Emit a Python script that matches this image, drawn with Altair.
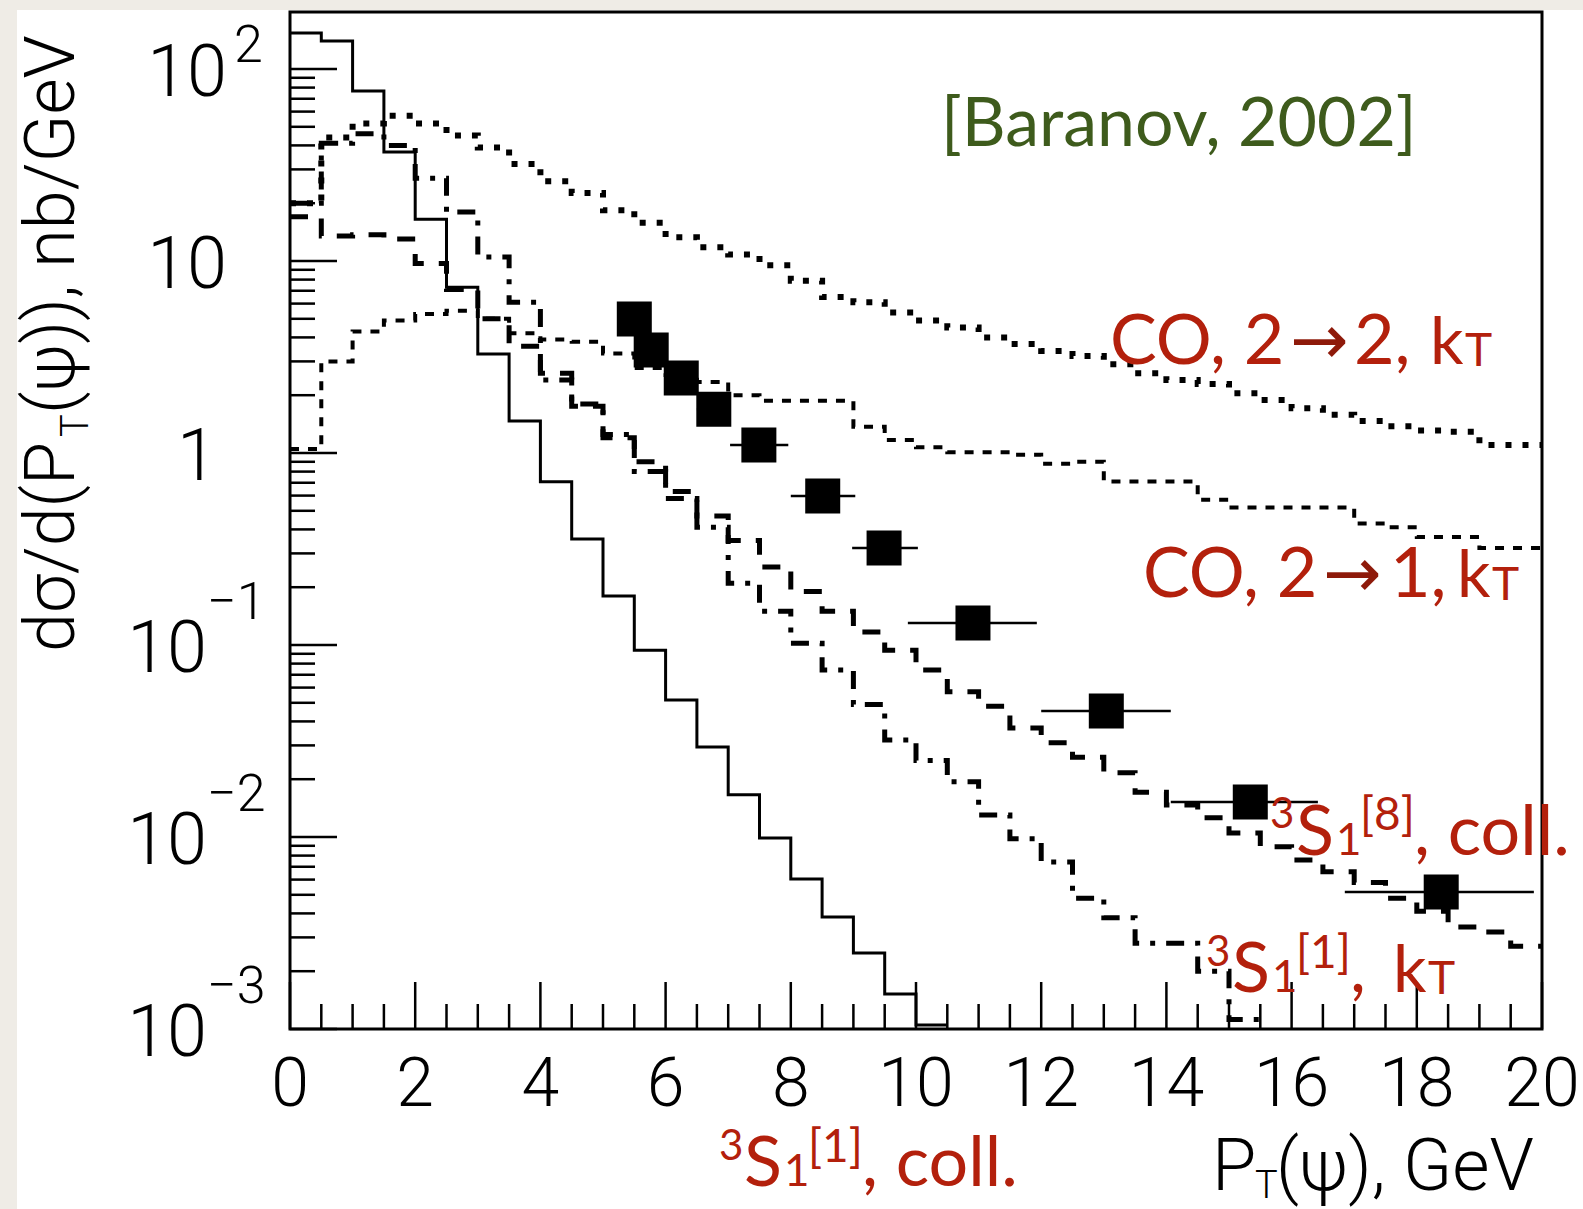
import altair as alt
import pandas as pd

# ---------------- data ----------------
BIN_WIDTH = 0.5  # GeV, histogram bin width

# 3S1[1], collinear  (solid histogram)
sing_coll = [154, 140, 76.8, 37, 16.5, 7.3, 3.28, 1.47, 0.709, 0.356, 0.18, 0.094,
             0.0517, 0.0294, 0.0166, 0.00988, 0.00604, 0.00383, 0.00249, 0.00152, 0.00105]
# CO, 2->2, kT  (dense dotted)
co_22_kt = [20, 44, 52, 57, 52, 45, 39, 32, 26, 22.6, 18.4, 15.8, 13.3, 11.8, 10.8, 9.5,
            7.9, 6.5, 6.1, 5.4, 4.9, 4.5, 4.0, 3.7, 3.4, 3.2, 2.9, 2.6, 2.4, 2.29,
            2.05, 1.89, 1.71, 1.58, 1.47, 1.38, 1.31, 1.29, 1.1, 1.1]
# CO, 2->1, kT  (sparse dotted)
co_21_kt = [1.05, 3.0, 4.3, 4.9, 5.3, 5.5, 5.0, 4.2, 3.9, 3.8, 3.3, 2.77, 2.55, 2.34, 2.0,
            1.87, 1.87, 1.87, 1.37, 1.17, 1.07, 1.01, 1.01, 0.98, 0.88, 0.9, 0.71, 0.71,
            0.71, 0.57, 0.52, 0.52, 0.52, 0.52, 0.43, 0.41, 0.365, 0.365, 0.32, 0.32]
# 3S1[8], collinear  (dashed)
oct_coll = [17, 13.5, 13.7, 13, 9.7, 7.1, 5.0, 3.6, 2.6, 1.75, 1.2, 0.9, 0.63, 0.47, 0.35,
            0.255, 0.19, 0.15, 0.117, 0.094, 0.074, 0.057, 0.048, 0.037, 0.031, 0.026,
            0.0216, 0.0171, 0.0147, 0.0126, 0.0105, 0.0089, 0.0076, 0.0066, 0.0058,
            0.0048, 0.0041, 0.0034, 0.0032, 0.0027]
# 3S1[1], kT  (dash-dotted)
sing_kt = [20, 41, 46, 40, 27, 18, 10.5, 6.1, 2.4, 1.8, 1.25, 0.8, 0.58, 0.41, 0.21, 0.15,
           0.102, 0.074, 0.049, 0.032, 0.025, 0.0194, 0.013, 0.0098, 0.0074, 0.0048,
           0.0038, 0.0028, 0.0028, 0.002, 0.00112]

# measured points
data_pt = [5.50, 5.77, 6.25, 6.77, 7.49, 8.51, 9.49, 10.91, 13.04, 15.34, 18.39]
data_val = [4.99, 3.44, 2.46, 1.69, 1.10, 0.597, 0.32, 0.130, 0.0453, 0.0152, 0.00517]
data_pt_lo = [5.38, 5.65, 6.0, 6.5, 7.03, 8.0, 8.98, 9.87, 12.0, 14.07, 16.85]
data_pt_hi = [5.62, 5.89, 6.5, 7.0, 7.96, 9.03, 10.03, 11.93, 14.07, 16.42, 19.87]

# axis ticks / labels
x_major = [0, 2, 4, 6, 8, 10, 12, 14, 16, 18, 20]
y_pos_ticks = [100, 10]
y_one_tick = [1]
y_neg_ticks = [0.1, 0.01, 0.001]
y_pos_exp = ["2"]
y_neg_exp = ["\u22121", "\u22122", "\u22123"]

X_MIN, X_MAX = 0, 20
Y_MIN, Y_MAX = 0.001, 198.1

# ---------------- layout ----------------
OX, OY = 290, 12          # plot origin in page pixels
W, H = 1252, 1017          # plot area
PAGE_W, PAGE_H = 1583, 1209

NUM_FONT = "Roboto"
NUM_WEIGHT = 300
AX_FONT = "Roboto"
ANN_FONT = "Lato"
RED = "#b3200c"
DARKRED = "#8e1a0a"
GREEN = "#3e5b1c"

xscale = alt.Scale(domain=[X_MIN, X_MAX], nice=False, zero=False)
yscale = alt.Scale(type="log", domain=[Y_MIN, Y_MAX], nice=False)

ONE = pd.DataFrame({"a": [0]})


def xenc(field="pt"):
    return alt.X(f"{field}:Q", scale=xscale, axis=None)


def yenc(field="v"):
    return alt.Y(f"{field}:Q", scale=yscale, axis=None)


def hist_df(vals):
    edges = [i * BIN_WIDTH for i in range(len(vals) + 1)]
    return pd.DataFrame({"pt": edges, "v": list(vals) + [vals[-1]]})


def hist_layer(vals, width, dash=None):
    kw = dict(interpolate="step-after", color="black", strokeWidth=width,
              clip=True, strokeCap="butt", strokeJoin="miter")
    if dash is not None:
        kw["strokeDash"] = dash
    return alt.Chart(hist_df(vals)).mark_line(**kw).encode(x=xenc(), y=yenc())


def txt(text, x, y, size, color="black", font=ANN_FONT, align="left", angle=0,
        baseline="alphabetic", weight=None):
    kw = dict(text=text, font=font, fontSize=size, color=color, align=align,
              baseline=baseline)
    if angle:
        kw["angle"] = angle
    if weight is not None:
        kw["fontWeight"] = weight
    return alt.Chart(ONE).mark_text(**kw).encode(
        x=alt.value(x - OX), y=alt.value(y - OY))


layers = []

# page white area (beige strip at top/left)
layers.append(alt.Chart(ONE).mark_rect(color="white").encode(
    x=alt.value(17 - OX), x2=alt.value(PAGE_W - OX),
    y=alt.value(10 - OY), y2=alt.value(PAGE_H - OY)))

# histograms
layers.append(hist_layer(sing_coll, 3))
layers.append(hist_layer(co_22_kt, 6, [6, 11]))
layers.append(hist_layer(co_21_kt, 4, [9, 9]))
layers.append(hist_layer(oct_coll, 5, [18, 15]))
layers.append(hist_layer(sing_kt, 5, [18, 11, 5, 11]))

# data points
pts = pd.DataFrame({"pt": data_pt, "v": data_val, "lo": data_pt_lo, "hi": data_pt_hi})
layers.append(alt.Chart(pts).mark_rule(color="black", strokeWidth=2.5).encode(
    x=xenc("lo"), x2="hi:Q", y=yenc()))
layers.append(alt.Chart(pts).mark_square(size=1225, color="black", opacity=1).encode(
    x=xenc(), y=yenc()))

# ticks (inward, ROOT style)
y_major_all = y_pos_ticks + y_one_tick + y_neg_ticks
y_minor = [m * 10.0 ** k for k in range(-3, 3) for m in range(2, 10) if m * 10.0 ** k < Y_MAX]
x_minor = [i * 0.5 for i in range(0, 41) if (i * 0.5) % 2 != 0]

layers.append(alt.Chart(pd.DataFrame({"v": y_major_all})).mark_rule(
    color="black", strokeWidth=2.5).encode(y=yenc(), x=alt.value(0), x2=alt.value(47)))
layers.append(alt.Chart(pd.DataFrame({"v": y_minor})).mark_rule(
    color="black", strokeWidth=2.5).encode(y=yenc(), x=alt.value(0), x2=alt.value(25)))
layers.append(alt.Chart(pd.DataFrame({"pt": x_major})).mark_rule(
    color="black", strokeWidth=2.5).encode(x=xenc(), y=alt.value(H), y2=alt.value(H - 47)))
layers.append(alt.Chart(pd.DataFrame({"pt": x_minor})).mark_rule(
    color="black", strokeWidth=2.5).encode(x=xenc(), y=alt.value(H), y2=alt.value(H - 25)))

# frame
layers.append(alt.Chart(ONE).mark_rect(fillOpacity=0, stroke="black", strokeWidth=3).encode(
    x=alt.value(0), x2=alt.value(W), y=alt.value(0), y2=alt.value(H)))

# x tick labels
layers.append(alt.Chart(pd.DataFrame({"pt": x_major, "lab": [str(v) for v in x_major]}))
              .mark_text(font=NUM_FONT, fontWeight=NUM_WEIGHT, fontSize=68, align="center",
                         baseline="alphabetic")
              .encode(x=xenc(), y=alt.value(1106 - OY), text="lab:N"))

# y tick labels (10^n drawn as base + raised exponent)
layers.append(alt.Chart(pd.DataFrame({"v": y_pos_ticks, "lab": ["10"] * len(y_pos_ticks)}))
              .mark_text(font=NUM_FONT, fontWeight=NUM_WEIGHT, fontSize=72, align="right",
                         baseline="alphabetic", dy=27)
              .encode(x=alt.value(227 - OX), y=yenc(), text="lab:N"))
layers.append(alt.Chart(pd.DataFrame({"v": y_one_tick, "lab": ["1"]}))
              .mark_text(font=NUM_FONT, fontWeight=NUM_WEIGHT, fontSize=72, align="right",
                         baseline="alphabetic", dy=27)
              .encode(x=alt.value(217 - OX), y=yenc(), text="lab:N"))
layers.append(alt.Chart(pd.DataFrame({"v": y_neg_ticks, "lab": ["10"] * len(y_neg_ticks)}))
              .mark_text(font=NUM_FONT, fontWeight=NUM_WEIGHT, fontSize=72, align="right",
                         baseline="alphabetic", dy=27)
              .encode(x=alt.value(207 - OX), y=yenc(), text="lab:N"))
layers.append(alt.Chart(pd.DataFrame({"v": y_pos_ticks[:1], "lab": y_pos_exp}))
              .mark_text(font=NUM_FONT, fontWeight=NUM_WEIGHT, fontSize=52, align="left",
                         baseline="alphabetic", dy=-7)
              .encode(x=alt.value(234 - OX), y=yenc(), text="lab:N"))
layers.append(alt.Chart(pd.DataFrame({"v": y_neg_ticks, "lab": y_neg_exp}))
              .mark_text(font=NUM_FONT, fontWeight=NUM_WEIGHT, fontSize=52, align="left",
                         baseline="alphabetic", dy=-26)
              .encode(x=alt.value(207 - OX), y=yenc(), text="lab:N"))

# axis titles (rotated y title built from pieces so P carries a subscript T)
layers.append(txt("d\u03c3/d(P", 74, 652, 70, font=AX_FONT, angle=270, weight=300))
layers.append(txt("T", 88, 437, 38, font=AX_FONT, angle=270, weight=300))
layers.append(txt("(\u03c8)), nb/GeV", 74, 414, 70, font=AX_FONT, angle=270, weight=300))
layers.append(txt("P", 1212, 1190, 72, font=AX_FONT, weight=300))
layers.append(txt("T", 1255, 1198, 38, font=AX_FONT, weight=300))
layers.append(txt("(\u03c8), GeV", 1276, 1190, 72, font=AX_FONT, weight=300))

# annotations
layers.append(txt("[Baranov, 2002]", 941, 146, 68, GREEN))

layers.append(txt("CO, 2", 1110, 364, 70, RED))
layers.append(txt("\u2192", 1290, 364, 70, DARKRED, font="DejaVu Sans"))
layers.append(txt("2,", 1354, 364, 70, RED))
layers.append(txt("k", 1430, 364, 66, RED))
layers.append(txt("T", 1465, 366, 46, RED))

layers.append(txt("CO, 2", 1143, 597, 70, RED))
layers.append(txt("\u2192", 1323, 597, 70, DARKRED, font="DejaVu Sans"))
layers.append(txt("1,", 1390, 597, 70, RED))
layers.append(txt("k", 1457, 597, 66, RED))
layers.append(txt("T", 1492, 600, 46, RED))

layers.append(txt("3", 1270, 828, 42, RED))
layers.append(txt("S", 1296, 855, 70, RED))
layers.append(txt("1", 1336, 855, 44, RED))
layers.append(txt("[8]", 1360, 830, 46, RED))
layers.append(txt(", coll.", 1414, 855, 70, RED))

layers.append(txt("3", 1206, 966, 42, RED))
layers.append(txt("S", 1232, 992, 70, RED))
layers.append(txt("1", 1272, 992, 44, RED))
layers.append(txt("[1]", 1296, 968, 46, RED))
layers.append(txt(",", 1350, 992, 70, RED))
layers.append(txt("k", 1393, 992, 66, RED))
layers.append(txt("T", 1428, 994, 46, RED))

layers.append(txt("3", 719, 1160, 42, RED))
layers.append(txt("S", 744, 1186, 70, RED))
layers.append(txt("1", 784, 1186, 44, RED))
layers.append(txt("[1]", 808, 1162, 46, RED))
layers.append(txt(", coll.", 862, 1186, 70, RED))

chart = alt.layer(*layers).properties(
    width=W, height=H,
    padding={"left": OX, "top": OY, "right": PAGE_W - OX - W, "bottom": PAGE_H - OY - H},
    autosize=alt.AutoSizeParams(type="none"),
    background="#efece6",
).configure_view(strokeWidth=0)

chart.save("out.html", embed_options={"renderer": "svg", "actions": False})
